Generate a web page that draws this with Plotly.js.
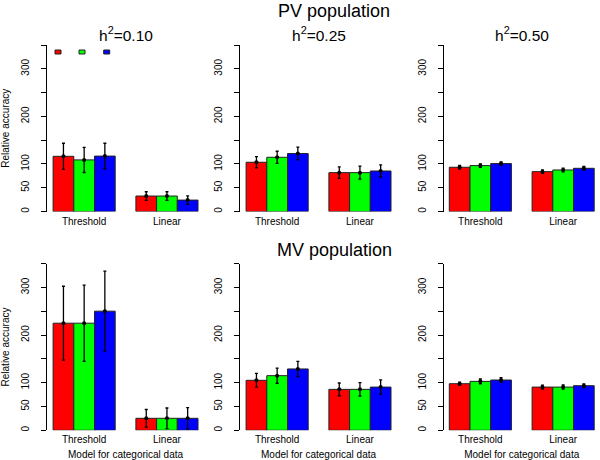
<!DOCTYPE html>
<html>
<head>
<meta charset="utf-8">
<script src="https://cdn.plot.ly/plotly-3.0.1.min.js"></script>
<style>html,body{margin:0;padding:0;background:#fff;}#chart{width:600px;height:460px;}</style>
</head>
<body>
<div id="chart"></div>
<script>
// ---- data ----
const groups = ['Threshold', 'Linear'];
const seriesNames = ['Series 1', 'Series 2', 'Series 3'];
const seriesColors = ['#FF0000', '#00FF00', '#0000FF'];
const yTickVals = [0, 50, 100, 200, 300];
const yTickText = ['0', '50', '100', '200', '300'];
const yMinorStep = 50;
const panelTitles = ['h<sup>2</sup>=0.10', 'h<sup>2</sup>=0.25', 'h<sup>2</sup>=0.50'];
const rowTitles = ['PV population', 'MV population'];

// PV population
const pv10Red = [116, 32.5],   pv10RedErr = [27.5, 9];
const pv10Green = [108.5, 32.5], pv10GreenErr = [26.5, 9];
const pv10Blue = [116.5, 24],  pv10BlueErr = [27, 9];
const pv25Red = [103.5, 81.7], pv25RedErr = [12, 12];
const pv25Green = [114, 81.7], pv25GreenErr = [12.7, 13.5];
const pv25Blue = [121.8, 85.2], pv25BlueErr = [13.4, 12.7];
const pv50Red = [93, 83.8],    pv50RedErr = [4, 3.5];
const pv50Green = [96.5, 87.3], pv50GreenErr = [3.5, 4];
const pv50Blue = [100.7, 90.8], pv50BlueErr = [3.5, 4];
// MV population
const mv10Red = [225, 25.2],   mv10RedErr = [77.6, 18.5];
const mv10Green = [225, 25.2], mv10GreenErr = [80, 21.7];
const mv10Blue = [250.3, 25.2], mv10BlueErr = [84, 22.4];
const mv25Red = [105, 86],     mv25RedErr = [14.5, 13.4];
const mv25Green = [114.8, 86], mv25GreenErr = [16, 14];
const mv25Blue = [128.9, 90.8], mv25BlueErr = [16, 15];
const mv50Red = [97.9, 90.8],  mv50RedErr = [3.5, 4];
const mv50Green = [102.8, 90.8], mv50GreenErr = [5, 4.5];
const mv50Blue = [105.6, 93.7], mv50BlueErr = [5, 4];

const panels = [
  [[pv10Red, pv10RedErr], [pv10Green, pv10GreenErr], [pv10Blue, pv10BlueErr]],
  [[pv25Red, pv25RedErr], [pv25Green, pv25GreenErr], [pv25Blue, pv25BlueErr]],
  [[pv50Red, pv50RedErr], [pv50Green, pv50GreenErr], [pv50Blue, pv50BlueErr]],
  [[mv10Red, mv10RedErr], [mv10Green, mv10GreenErr], [mv10Blue, mv10BlueErr]],
  [[mv25Red, mv25RedErr], [mv25Green, mv25GreenErr], [mv25Blue, mv25BlueErr]],
  [[mv50Red, mv50RedErr], [mv50Green, mv50GreenErr], [mv50Blue, mv50BlueErr]]
];

// ---- layout geometry (pixels) ----
const W = 600, H = 460;
const colPx = [[47.3, 203.8], [240.3, 396.8], [443.5, 600]];
const rowPx = [[45, 211.5], [263.7, 430.3]];
const FONT = 'Liberation Sans, Arial, Helvetica, sans-serif';

const traces = [];
const layout = {
  width: W, height: H,
  margin: {l: 0, r: 0, t: 0, b: 0},
  paper_bgcolor: '#fff', plot_bgcolor: '#fff',
  showlegend: false,
  barmode: 'group', bargap: 0.25, bargroupgap: 0,
  scattermode: 'group', scattergap: 0.25,
  font: {family: FONT, size: 10, color: '#000'},
  annotations: [], shapes: []
};

panels.forEach((panel, p) => {
  const row = Math.floor(p / 3), col = p % 3;
  const n = p + 1;
  const xa = 'x' + (n === 1 ? '' : n), ya = 'y' + (n === 1 ? '' : n);
  panel.forEach((s, k) => {
    traces.push({
      type: 'bar', x: groups, y: s[0], xaxis: xa, yaxis: ya,
      name: seriesNames[k], offsetgroup: String(k),
      marker: {color: seriesColors[k], line: {color: '#222', width: 1}},
      error_y: {type: 'data', array: s[1], visible: true, color: '#000', thickness: 1.3, width: 1.5},
      hoverinfo: 'y'
    });
  });
  panel.forEach((s, k) => {
    traces.push({
      type: 'scatter', mode: 'markers', x: groups, y: s[0], xaxis: xa, yaxis: ya,
      offsetgroup: String(k), name: seriesNames[k],
      marker: {color: '#000', size: 4}, hoverinfo: 'skip'
    });
  });
  const xName = 'xaxis' + (n === 1 ? '' : n), yName = 'yaxis' + (n === 1 ? '' : n);
  const xAxis = {
    domain: [colPx[col][0] / W, colPx[col][1] / W],
    anchor: ya, type: 'category', range: [-0.445, 1.445],
    showline: false, ticks: '', showgrid: false, zeroline: false,
    tickfont: {size: 10, family: FONT}, ticklabelstandoff: 2, fixedrange: true
  };
  if (row === 1) xAxis.title = {text: 'Model for categorical data', font: {size: 10, family: FONT}, standoff: 7};
  layout[xName] = xAxis;
  const yAxis = {
    domain: [1 - rowPx[row][1] / H, 1 - rowPx[row][0] / H],
    anchor: xa, range: [0, 350],
    tickmode: 'array', tickvals: yTickVals, ticktext: yTickText, tickangle: -90,
    ticks: 'outside', ticklen: 5, tickwidth: 1, tickcolor: '#000',
    minor: {tick0: 0, dtick: yMinorStep, ticks: 'outside', ticklen: 5, tickwidth: 1, tickcolor: '#000', showgrid: false},
    showline: true, linecolor: '#000', linewidth: 1,
    showgrid: false, zeroline: false, fixedrange: true,
    tickfont: {size: 10, family: FONT}, ticklabelstandoff: 8
  };
  if (col === 0) yAxis.title = {text: 'Relative accuracy', font: {size: 10, family: FONT}, standoff: 12};
  layout[yName] = yAxis;
  if (row === 0) {
    layout.annotations.push({
      text: panelTitles[col], xref: 'paper', yref: 'paper',
      x: (colPx[col][0] + colPx[col][1]) / 2 / W, y: 1 - 46 / H,
      xanchor: 'center', yanchor: 'bottom', showarrow: false,
      font: {size: 15.5, family: FONT}
    });
  }
});

rowTitles.forEach((t, r) => {
  layout.annotations.push({
    text: t, xref: 'paper', yref: 'paper',
    x: 334 / W, y: 1 - (r === 0 ? 23.5 : 261.5) / H,
    xanchor: 'center', yanchor: 'bottom', showarrow: false,
    font: {size: 18, family: FONT}
  });
});

// legend keys (top-left panel)
const keyX = [55, 79, 103.7];
seriesColors.forEach((c, k) => {
  layout.shapes.push({
    type: 'rect', xref: 'paper', yref: 'paper',
    x0: keyX[k] / W, x1: (keyX[k] + 6) / W, y0: 1 - 54 / H, y1: 1 - 50 / H,
    fillcolor: c, line: {color: '#222', width: 1}
  });
});

Plotly.newPlot('chart', traces, layout, {staticPlot: true, displayModeBar: false});
</script>
</body>
</html>
